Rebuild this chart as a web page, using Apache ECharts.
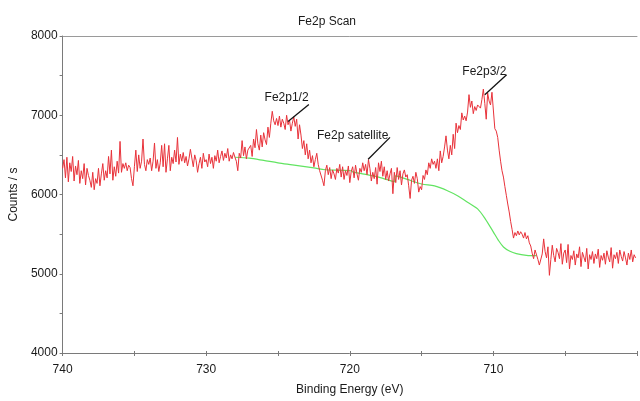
<!DOCTYPE html>
<html>
<head>
<meta charset="utf-8">
<title>Fe2p Scan</title>
<script src="https://cdn.jsdelivr.net/npm/echarts@6/dist/echarts.min.js"></script>
<style>
  html, body { margin: 0; padding: 0; background: #ffffff; }
  #chart { width: 640px; height: 401px; }
</style>
</head>
<body>
<div id="chart"></div>
<script>
// Fe 2p region, 0.1 eV steps starting at 740.0 eV binding energy
const energyStart = 740.0;
const energyStep = 0.1;

// counts per second, one row per eV (740.0 ... 700.1)
const counts = [
  6330, 6440, 6210, 6470, 6160, 6400, 6290, 6480, 6170, 6360,
  6250, 6430, 6140, 6300, 6200, 6390, 6120, 6330, 6240, 6180,
  6090, 6280, 6060, 6200, 6140, 6330, 6110, 6260, 6390, 6180,
  6300, 6210, 6480, 6260, 6560, 6180, 6350, 6230, 6420, 6270,
  6670, 6280, 6390, 6330, 6400, 6300, 6370, 6340, 6200, 6110,
  6350, 6560, 6290, 6500, 6330, 6420, 6700, 6380, 6300, 6440,
  6380, 6460, 6300, 6420, 6650, 6330, 6440, 6290, 6400, 6620,
  6350, 6640, 6280, 6450, 6620, 6300, 6470, 6390, 6560, 6410,
  6720, 6380, 6510, 6420, 6530, 6400, 6480, 6360, 6450, 6570,
  6460, 6350, 6500, 6430, 6280, 6390, 6470, 6330, 6520, 6410,
  6440, 6350, 6510, 6390, 6470, 6330, 6490, 6420, 6560, 6400,
  6480, 6550, 6430, 6520, 6460, 6580, 6420, 6500, 6450, 6530,
  6470, 6420, 6300, 6520, 6460, 6680, 6490, 6600, 6450, 6560,
  6550, 6620, 6480, 6700, 6590, 6820, 6640, 6560, 6750, 6600,
  6780, 6690, 6630, 6850, 6720, 6900, 7050, 6930, 6880, 6960,
  6870, 6990, 6850, 6950, 6900, 6820, 7000, 6880, 6940, 6800,
  6900, 6980, 6860, 6950, 6700, 6880, 6750, 6580, 6680, 6500,
  6640, 6450, 6560, 6400, 6490, 6350, 6440, 6520, 6380, 6300,
  6280, 6180, 6110, 6300, 6370, 6250, 6340, 6200, 6310, 6260,
  6190, 6330, 6270, 6380, 6220, 6350, 6190, 6300, 6240, 6360,
  6150, 6290, 6350, 6210, 6370, 6260, 6180, 6330, 6280, 6400,
  6300, 6380, 6250, 6440, 6330, 6170, 6280, 6200, 6340, 6130,
  6400, 6290, 6420, 6230, 6350, 6190, 6300, 6170, 6260, 6330,
  6010, 6280, 6150, 6340, 6190, 6300, 6120, 6260, 6310, 6220,
  6250, 6110, 5950, 6180, 6230, 6140, 6280, 6200, 6030, 6100,
  6060, 6240, 6190, 6310, 6250, 6400, 6330, 6450, 6380, 6420,
  6330, 6450, 6300, 6550, 6400, 6480, 6600, 6740, 6560, 6450,
  6620, 6500, 6760, 6580, 6900, 6780, 6870, 6820, 7030, 6940,
  6990, 6930, 7040, 7260, 7100, 7180, 7020, 7110, 7060, 7130,
  7150, 7090, 7200, 7330, 7150, 6950, 7280, 7180, 7130, 7290,
  7280, 6830, 6800, 6720, 6560, 6420, 6300, 6220, 6100, 5990,
  5880, 5780, 5660, 5560, 5450, 5520, 5480, 5540, 5490, 5530,
  5500, 5450, 5520, 5440, 5480, 5390, 5350, 5260, 5190, 5300,
  5320, 5180, 5110, 5090, 5250, 5440, 5280, 5200, 5340, 4980,
  5180, 5360, 5230, 5150, 5320, 5270, 5190, 5380, 5120, 5260,
  5300, 5140, 5370, 5060, 5230, 5180, 5290, 5110, 5250, 5200,
  5340, 5090, 5270, 5210, 5150, 5320, 5060, 5240, 5180, 5280,
  5130, 5250, 5190, 5310, 5080, 5230, 5170, 5260, 5120, 5290,
  5210, 5150, 5330, 5070, 5240, 5190, 5270, 5130, 5300, 5220,
  5160, 5280, 5200, 5110, 5260, 5180, 5300, 5150, 5240, 5200
];

// Shirley-type background under the peaks
const backgroundEnergy = [
  728.0, 727.0, 726.0, 725.0, 724.0, 723.5, 722.5, 721.7, 720.5, 719.9,
  719.8, 719.0, 718.0, 717.0, 716.9, 716.8, 716.0, 715.0, 714.1, 713.2,
  712.5, 711.8, 711.1, 710.57, 710.0, 709.65, 709.3, 708.85, 708.4, 707.7, 707.0
];
const backgroundCounts = [
  6470, 6458, 6430, 6400, 6375, 6362, 6335, 6312, 6305, 6300,
  6285, 6257, 6220, 6165, 6160, 6236, 6190, 6132, 6108, 6048,
  5985, 5902, 5818, 5693, 5526, 5421, 5338, 5283, 5254, 5233, 5229
];

// peak annotations: label text, label centre, leader line (from, to)
const peakNames = ['Fe2p1/2', 'Fe2p satellite', 'Fe2p3/2'];
const peakLabelAt = [[724.4, 7223], [719.8, 6746], [710.63, 7549]];
const peakLeaderFrom = [[722.85, 7135], [717.2, 6721], [709.08, 7511]];
const peakLeaderTo = [[724.3, 6922], [718.72, 6445], [710.6, 7260]];

const yTicks = { min: 4000, max: 8000, step: 500, labelStep: 1000 };

const spectrum = counts.map((c, i) => [+(energyStart - i * energyStep).toFixed(1), c]);
const background = backgroundEnergy.map((e, i) => [e, backgroundCounts[i]]);

const font = 'Liberation Sans, Arial, sans-serif';
const axisGrey = '#7a7a7a';
const textColor = '#1a1a1a';

const chart = echarts.init(document.getElementById('chart'), null, { renderer: 'canvas' });

chart.setOption({
  animation: false,
  backgroundColor: '#ffffff',
  title: {
    text: 'Fe2p Scan',
    left: 322,
    top: 11,
    textAlign: 'center',
    textStyle: { fontFamily: font, fontSize: 12, fontWeight: 'normal', color: textColor }
  },
  grid: { left: 61, right: -2, top: 36, bottom: 46 },
  xAxis: [
    {
      type: 'value',
      inverse: true,
      min: 700,
      max: 740,
      interval: 5,
      position: 'bottom',
      name: 'Binding Energy (eV)',
      nameLocation: 'middle',
      nameGap: 31,
      nameTextStyle: { fontFamily: font, fontSize: 12, color: textColor },
      axisLine: { lineStyle: { color: axisGrey, width: 1 } },
      axisTick: { length: 3, lineStyle: { color: axisGrey } },
      axisLabel: {
        margin: 11,
        fontFamily: font, fontSize: 12, color: textColor,
        formatter: v => (v % 10 === 0 && v !== 700) ? String(v) : ''
      },
      splitLine: { show: false }
    },
    {
      // inner half of the cross-shaped ticks
      type: 'value',
      inverse: true,
      min: 700,
      max: 740,
      interval: 5,
      position: 'bottom',
      axisLine: { show: false },
      axisTick: { inside: true, length: 2, lineStyle: { color: axisGrey } },
      axisLabel: { show: false },
      splitLine: { show: false }
    },
    {
      // frame line along the top
      type: 'value',
      inverse: true,
      min: 700,
      max: 740,
      position: 'top',
      axisLine: { lineStyle: { color: '#9a9a9a', width: 1 } },
      axisTick: { show: false },
      axisLabel: { show: false },
      splitLine: { show: false }
    }
  ],
  yAxis: {
    type: 'value',
    min: yTicks.min,
    max: yTicks.max,
    interval: yTicks.step,
    name: 'Counts / s',
    nameLocation: 'middle',
    nameRotate: 90,
    nameGap: 37,
    nameTextStyle: { fontFamily: font, fontSize: 12, color: textColor },
    axisLine: { show: true, lineStyle: { color: axisGrey, width: 1 } },
    axisTick: { show: true, length: 3, lineStyle: { color: axisGrey } },
    axisLabel: {
      margin: 5,
      fontFamily: font, fontSize: 12, color: textColor,
      formatter: v => (v % yTicks.labelStep === 0) ? String(v) : ''
    },
    splitLine: { show: false }
  },
  series: [
    {
      name: 'Background',
      type: 'line',
      data: background,
      showSymbol: false,
      smooth: 0.3,
      lineStyle: { color: '#62e462', width: 1.2 },
      z: 3
    },
    {
      name: 'Fe2p',
      type: 'line',
      data: spectrum,
      showSymbol: false,
      lineStyle: { color: '#e8323a', width: 1 },
      z: 4,
      markLine: {
        silent: true,
        symbol: ['none', 'none'],
        animation: false,
        label: { show: false },
        lineStyle: { color: '#111111', width: 1.3, type: 'solid' },
        data: peakLeaderFrom.map((p, i) => [{ coord: p }, { coord: peakLeaderTo[i] }])
      },
      markPoint: {
        silent: true,
        symbol: 'circle',
        symbolSize: 0,
        animation: false,
        label: {
          show: true,
          position: 'inside',
          fontFamily: font,
          fontSize: 12,
          color: textColor
        },
        data: peakNames.map((n, i) => ({
          coord: peakLabelAt[i],
          value: n,
          label: { formatter: n }
        }))
      }
    }
  ]
});
</script>
</body>
</html>
